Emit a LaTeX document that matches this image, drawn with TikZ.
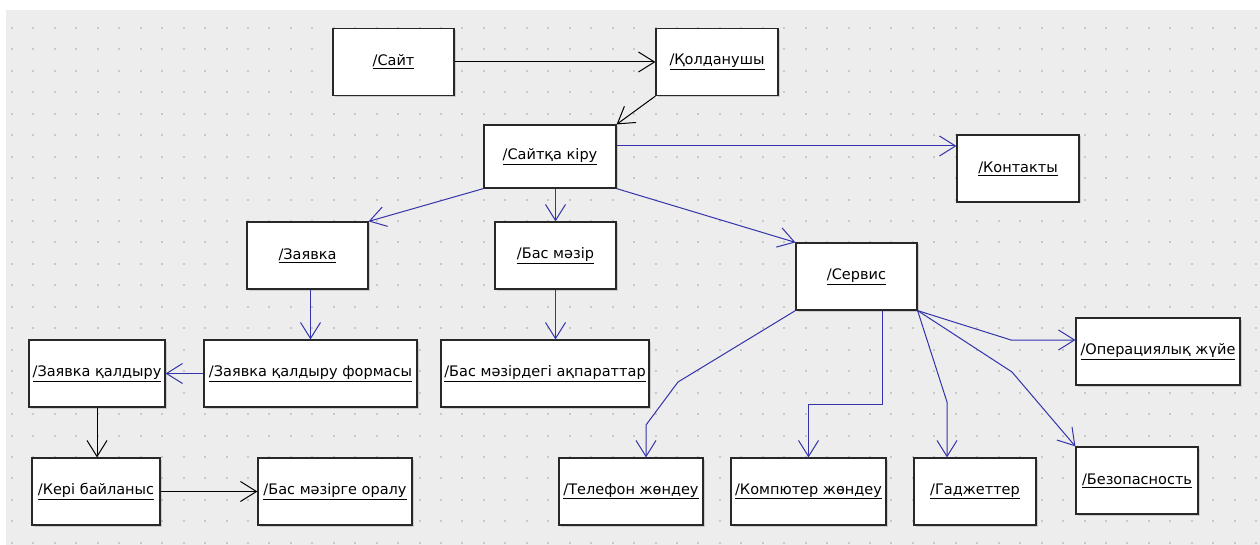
\documentclass[tikz,border=0pt]{standalone}
\usepackage{fontspec}
\usepackage{tikz}
\usetikzlibrary{arrows.meta}
\usetikzlibrary{shadows}
\newfontfamily\entityfont{DejaVu Sans}
\definecolor{canvasgrey}{RGB}{237,237,237}
\definecolor{dotgrey}{RGB}{200,200,200}
\definecolor{flowblue}{RGB}{51,51,170}
\definecolor{boxline}{RGB}{40,40,40}
\tikzstyle{entity}=[draw=boxline, fill=white, line width=1.2pt, inner sep=0pt,
    minimum height=67pt, font=\entityfont\fontsize{14.5pt}{16pt}\selectfont,
    drop shadow={shadow xshift=1.5pt, shadow yshift=-1.5pt, opacity=0.3}]
\tikzstyle{link}=[black, line width=1pt, -{Straight Barb[length=16pt,width=20pt]}]
\tikzstyle{flow}=[link, flowblue]

\begin{document}
\begin{tikzpicture}[x=1pt, y=-1pt]
          \useasboundingbox (0,0) rectangle (1260,545);
          \fill[white] (0,0) rectangle (1260,545);
          \fill[canvasgrey] (6,10) rectangle (1260,545);
          \foreach \i in {0,...,58}
            \foreach \j in {0,...,24}
              \fill[dotgrey] ({12+21.45*\i-1},{28+21.45*\j-1}) rectangle ++(2,2);
          \node[entity, minimum width=121pt] (sait) at (393.5,62){\underline{/Сайт}};
          \node[entity, minimum width=122pt] (qold) at (717,62){\underline{/Қолданушы}};
          \node[entity, minimum width=132pt, minimum height=63pt] (saitqa) at (550,156.5){\underline{/Сайтқа кіру}};
          \node[entity, minimum width=122pt] (kontakt) at (1018,168.5){\underline{/Контакты}};
          \node[entity, minimum width=121pt] (zayavka) at (307.5,255.5){\underline{/Заявка}};
          \node[entity, minimum width=121pt] (basmazir) at (555.5,255.5){\underline{/Бас мәзір}};
          \node[entity, minimum width=121pt] (servis) at (856.5,276.5){\underline{/Сервис}};
          \node[entity, minimum width=136pt] (zqaldyru) at (97,373.5){\underline{/Заявка қалдыру}};
          \node[entity, minimum width=213pt] (forma) at (310.5,373.5){\underline{/Заявка қалдыру формасы}};
          \node[entity, minimum width=208pt] (akparat) at (545,373.5){\underline{/Бас мәзірдегі ақпараттар}};
          \node[entity, minimum width=164pt] (opjuie) at (1158,351.5){\underline{/Операциялық жүйе}};
          \node[entity, minimum width=128pt] (keri) at (96,491.5){\underline{/Кері байланыс}};
          \node[entity, minimum width=154pt] (oralu) at (335,491.5){\underline{/Бас мәзірге оралу}};
          \node[entity, minimum width=144pt] (telefon) at (631,491.5){\underline{/Телефон жөндеу}};
          \node[entity, minimum width=155pt] (komputer) at (808.5,491.5){\underline{/Компютер жөндеу}};
          \node[entity, minimum width=122pt] (gadjet) at (975,491.5){\underline{/Гаджеттер}};
          \node[entity, minimum width=122pt] (bezopas) at (1137,480.5){\underline{/Безопасность}};
          \draw[link](sait.east) -- (qold.west);
          \draw[link](qold.south west) -- (saitqa.north east);
          \draw[flow]([yshift=10.5pt]saitqa.east) -- ([yshift=10.5pt]saitqa.east -| kontakt.west);
          \draw[flow](saitqa.south west) -- (zayavka.north east);
          \draw[flow](basmazir.north |- saitqa.south) -- (basmazir.north);
          \draw[flow](saitqa.south east) -- (servis.north west);
          \draw[flow](forma.north |- zayavka.south) -- (forma.north);
          \draw[flow](basmazir.south) -- (basmazir.south |- akparat.north);
          \draw[flow](forma.west) -- (zqaldyru.east);
          \draw[link](zqaldyru.south) -- (zqaldyru.south |- keri.north);
          \draw[link](keri.east) -- (oralu.west);
          \draw[flow](servis.south west) -- (678,382) -- (646,425) -- ([xshift=15pt]telefon.north);
          \draw[flow]([xshift=25.5pt]servis.south) -- ++(0,94) -| (komputer.north);
          \draw[flow](servis.south east) -- (947,402) -- ([xshift=-28pt]gadjet.north);
          \draw[flow](servis.south east) -- (1011,340) -- ([yshift=11.5pt]opjuie.west);
          \draw[flow](servis.south east) -- (1012,372) -- (bezopas.north west);
        \end{tikzpicture}
\end{document}
